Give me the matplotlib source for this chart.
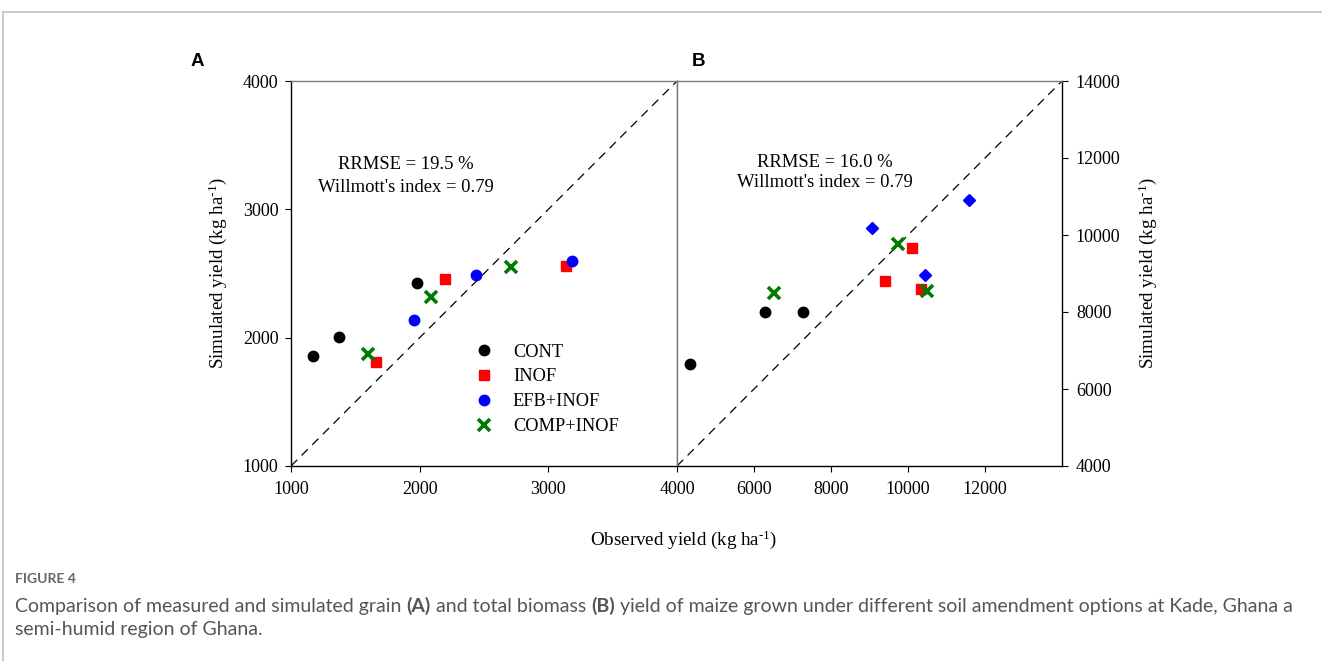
import matplotlib
matplotlib.use("Agg")
import matplotlib.pyplot as plt
from matplotlib.lines import Line2D

plt.rcParams["font.family"] = "Liberation Serif"
plt.rcParams["mathtext.fontset"] = "custom"
plt.rcParams["mathtext.rm"] = "Liberation Serif"
plt.rcParams["mathtext.default"] = "regular"

# ---- (A) grain yield, kg/ha ----
a_cont_obs = [1169, 1370, 1977]
a_cont_sim = [1860, 2003, 2424]
a_inof_obs = [1663, 2194, 3137]
a_inof_sim = [1808, 2455, 2561]
a_efb_obs = [1958, 2440, 3186]
a_efb_sim = [2136, 2491, 2600]
a_comp_obs = [1601, 2090, 2712]
a_comp_sim = [1875, 2320, 2551]

# ---- (B) total biomass, kg/ha ----
b_cont_obs = [4347, 6279, 7272]
b_cont_sim = [6642, 8000, 8000]
b_inof_obs = [9397, 10091, 10326]
b_inof_sim = [8805, 9670, 8605]
b_efb_obs = [9057, 10441, 11590]
b_efb_sim = [10174, 8961, 10909]
b_comp_obs = [6514, 9744, 10493]
b_comp_sim = [8486, 9774, 8553]

a_stats = "RRMSE = 19.5 %\nWillmott's index = 0.79"
b_stats = "RRMSE = 16.0 %\nWillmott's index = 0.79"

FS = 13.2
GRID_GRAY = "#7a7a7a"

fig = plt.figure(figsize=(13.22, 6.61), dpi=100, facecolor="white")

ax_a = fig.add_axes([291 / 1322, 1 - 466 / 661, 386 / 1322, 385 / 661])
ax_b = fig.add_axes([677 / 1322, 1 - 466 / 661, 385 / 1322, 385 / 661])

mk = dict(linestyle="none")
ax_a.plot(a_cont_obs, a_cont_sim, marker="o", color="black", ms=7.5, label="CONT", **mk)
ax_a.plot(a_inof_obs, a_inof_sim, marker="s", color="#ff0000", ms=6.5, label="INOF", **mk)
ax_a.plot(a_efb_obs, a_efb_sim, marker="o", color="#0000ff", ms=7.5, label="EFB+INOF", **mk)
ax_a.plot(a_comp_obs, a_comp_sim, marker="x", color="#007a00", ms=8, mew=2.6,
          label="COMP+INOF", **mk)

ax_b.plot(b_cont_obs, b_cont_sim, marker="o", color="black", ms=7.5, **mk)
ax_b.plot(b_inof_obs, b_inof_sim, marker="s", color="#ff0000", ms=6.5, **mk)
ax_b.plot(b_efb_obs, b_efb_sim, marker="D", color="#0000ff", ms=6.5, **mk)
ax_b.plot(b_comp_obs, b_comp_sim, marker="x", color="#007a00", ms=8, mew=2.6, **mk)

# 1:1 lines
ax_a.plot([1000, 4000], [1000, 4000], color="black", lw=0.9, dashes=(7, 5), zorder=1)
ax_b.plot([4000, 14000], [4000, 14000], color="black", lw=0.9, dashes=(7, 5), zorder=1)

ax_a.set_xlim(1000, 4000)
ax_a.set_ylim(1000, 4000)
ax_a.set_xticks([1000, 2000, 3000, 4000])
ax_a.set_yticks([1000, 2000, 3000, 4000])

ax_b.set_xlim(4000, 14000)
ax_b.set_ylim(4000, 14000)
ax_b.set_xticks([6000, 8000, 10000, 12000])
ax_b.set_yticks([4000, 6000, 8000, 10000, 12000, 14000])
ax_b.yaxis.tick_right()

for ax in (ax_a, ax_b):
    ax.tick_params(direction="out", length=4, width=0.8, labelsize=13, pad=7)
    for s in ax.spines.values():
        s.set_linewidth(1.0)
    ax.spines["top"].set_color(GRID_GRAY)

ax_a.spines["right"].set_color(GRID_GRAY)
ax_b.spines["left"].set_color(GRID_GRAY)
ax_b.tick_params(axis="y", left=False, right=True, pad=6)
ax_a.tick_params(axis="y", pad=5)

ax_a.text(0.298, 0.753, a_stats, transform=ax_a.transAxes, ha="center", va="center",
          fontsize=13.4, linespacing=1.45)
ax_b.text(0.384, 0.762, b_stats, transform=ax_b.transAxes, ha="center", va="center",
          fontsize=13.4, linespacing=1.25)

leg = ax_a.legend(loc="upper left", bbox_to_anchor=(0.475, 0.318), frameon=False,
                  fontsize=FS, handlelength=1.0, handletextpad=1.1,
                  labelspacing=0.43, borderpad=0, borderaxespad=0)

# axis titles
ylab = r"Simulated yield (kg ha$^{\text{-1}}$)"
fig.text(218 / 1322, 1 - 273 / 661, ylab, rotation=90, ha="center", va="center", fontsize=13.7)
fig.text(1148 / 1322, 1 - 273 / 661, ylab, rotation=90, ha="center", va="center", fontsize=13.7)
fig.text(684 / 1322, 1 - 540 / 661, r"Observed yield (kg ha$^{\text{-1}}$)", ha="center",
         va="center", fontsize=13.7)

fig.text(197 / 1322, 1 - 62 / 661, "A", ha="center", va="center", fontsize=13.5,
         fontweight="bold", family="Liberation Sans")
fig.text(698 / 1322, 1 - 62 / 661, "B", ha="center", va="center", fontsize=13.5,
         fontweight="bold", family="Liberation Sans")

# card border
fig.add_artist(Line2D([3 / 1322, 1], [1 - 12 / 661] * 2, transform=fig.transFigure,
                      color="#c4c4c4", lw=1.2))
fig.add_artist(Line2D([3 / 1322] * 2, [0, 1 - 12 / 661], transform=fig.transFigure,
                      color="#c4c4c4", lw=1.2))

# caption
CAP = "#555555"
cap_font = "Lato"
fig.text(15 / 1322, 1 - 583 / 661, "FIGURE 4", ha="left", va="baseline", fontsize=10,
         color="#666666", family=cap_font, fontweight="bold")

renderer = fig.canvas.get_renderer()
pieces = [("Comparison of measured and simulated grain ", "normal"), ("(A)", "bold"),
          (" and total biomass ", "normal"), ("(B)", "bold"),
          (" yield of maize grown under different soil amendment options at Kade, Ghana a", "normal")]
x = 15
for txt, wt in pieces:
    t = fig.text(x / 1322, 1 - 612 / 661, txt, ha="left", va="baseline", fontsize=14,
                 color=CAP, family=cap_font, fontweight=wt)
    x += t.get_window_extent(renderer).width
fig.text(15 / 1322, 1 - 635 / 661, "semi-humid region of Ghana.", ha="left", va="baseline",
         fontsize=14, color=CAP, family=cap_font)

fig.savefig("out.png", dpi=100, facecolor="white")
